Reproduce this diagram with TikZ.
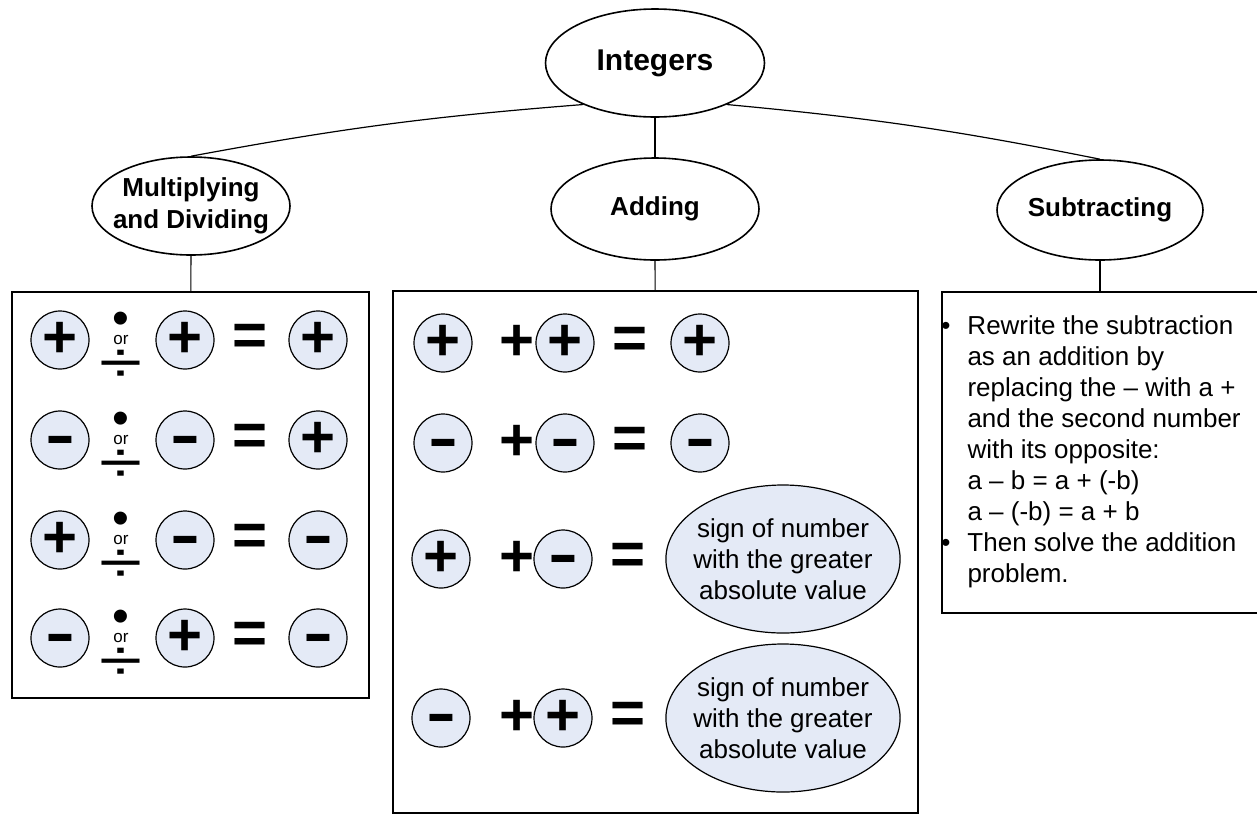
\documentclass[tikz,border=0pt]{standalone}
\usepackage{fontspec}
\setmainfont{Liberation Sans}
\usepackage{tikz}
\usetikzlibrary{shapes.geometric}

\definecolor{signfill}{RGB}{228,234,246}

\begin{document}
\begin{tikzpicture}[
		x=0.5pt, y=-0.5pt,
		every node/.style={inner sep=0pt, font=\fontsize{13}{15.5}\selectfont},
		topic/.style={ellipse, draw, line width=0.8pt, align=center, font=\bfseries\fontsize{13}{16}\selectfont},
		panel/.style={rectangle, draw, line width=0.8pt},
		possign/.style={circle, draw, line width=0.6pt, fill=signfill, minimum size=29pt, font=\bfseries\fontsize{30}{30}\selectfont},
		negsign/.style={possign, text height=15.7pt, text depth=0pt},
		opsign/.style={font=\bfseries\fontsize{30}{30}\selectfont},
		orsign/.style={font=\fontsize{8.5}{8.5}\selectfont,
			label={[font=\fontsize{24}{24}\selectfont, label distance=0pt]above:•},
			label={[font=\fontsize{29}{29}\selectfont, label distance=2.5pt]below:\scalebox{1.35}[1]{÷}}},
		result/.style={ellipse, draw, line width=0.6pt, fill=signfill, minimum width=117pt, minimum height=74pt, inner xsep=-3.4pt, align=center}
	]
  \useasboundingbox (0,0) rectangle (1257,815);
  % tree
  \node (int) [topic, minimum width=109.5pt, minimum height=54pt, font=\bfseries\fontsize{15}{18}\selectfont] at (655,63) {Integers};
  \node (mult) [topic, minimum width=99pt, minimum height=49pt, inner xsep=-4.5pt] at (191,206) {Multiplying\\and Dividing};
  \node (add) [topic, minimum width=104pt, minimum height=51pt] at (655,209) {Adding};
  \node (sub) [topic, minimum width=103pt, minimum height=50pt] at (1100,210) {Subtracting};
  \node (multbox) [panel, minimum width=178.5pt, minimum height=203pt] at (190.5,495) {};
  \node (addbox) [panel, minimum width=262.5pt, minimum height=261pt] at (655.5,552) {};
  \node (subbox) [panel, minimum width=158pt, minimum height=160.5pt] at (1100,452.5) {};
  \draw [line width=0.6pt] (int.210) to [bend right=3] (mult.north);
  \draw [line width=0.6pt] (int.330) to [bend left=3] (sub.north);
  \draw [line width=0.6pt] (int) -- (add);
  \draw [line width=0.6pt] (mult) -- (multbox);
  \draw [line width=0.6pt] (add) -- (addbox);
  \draw [line width=0.6pt] (sub) -- (subbox);

  % multiplying and dividing
  \node (m1a) [possign] at (60,340) {+};
  \node (m1o) [orsign] at (121,340) {or};
  \node (m1b) [possign] at (185,340) {+};
  \node (m1e) [opsign] at (250,340) {=};
  \node (m1c) [possign] at (318,340) {+};
  \node (m2a) [negsign] at (60,440) {\scalebox{1.5}[1]{-}};
  \node (m2o) [orsign] at (121,440) {or};
  \node (m2b) [negsign] at (185,440) {\scalebox{1.5}[1]{-}};
  \node (m2e) [opsign] at (250,440) {=};
  \node (m2c) [possign] at (318,440) {+};
  \node (m3a) [possign] at (60,540) {+};
  \node (m3o) [orsign] at (121,540) {or};
  \node (m3b) [negsign] at (185,540) {\scalebox{1.5}[1]{-}};
  \node (m3e) [opsign] at (250,540) {=};
  \node (m3c) [negsign] at (318,540) {\scalebox{1.5}[1]{-}};
  \node (m4a) [negsign] at (60,638) {\scalebox{1.5}[1]{-}};
  \node (m4o) [orsign] at (121,638) {or};
  \node (m4b) [possign] at (185,638) {+};
  \node (m4e) [opsign] at (250,638) {=};
  \node (m4c) [negsign] at (318,638) {\scalebox{1.5}[1]{-}};

  % adding
  \node (a1a) [possign] at (443,343) {+};
  \node (a1p) [opsign] at (517,343) {+};
  \node (a1b) [possign] at (565,343) {+};
  \node (a1e) [opsign] at (630,343) {=};
  \node (a1c) [possign] at (700,343) {+};
  \node (a2a) [negsign] at (443,443) {\scalebox{1.5}[1]{-}};
  \node (a2p) [opsign] at (517,443) {+};
  \node (a2b) [negsign] at (565,443) {\scalebox{1.5}[1]{-}};
  \node (a2e) [opsign] at (630,443) {=};
  \node (a2c) [negsign] at (700,443) {\scalebox{1.5}[1]{-}};
  \node (a3a) [possign] at (441,559) {+};
  \node (a3p) [opsign] at (517,559) {+};
  \node (a3b) [negsign] at (563,559) {\scalebox{1.5}[1]{-}};
  \node (a3e) [opsign] at (628,559) {=};
  \node (a3c) [result] at (783,559) {sign of number\\with the greater\\absolute value};
  \node (a4a) [negsign] at (441,718) {\scalebox{1.5}[1]{-}};
  \node (a4p) [opsign] at (517,718) {+};
  \node (a4b) [possign] at (563,718) {+};
  \node (a4e) [opsign] at (628,718) {=};
  \node (a4c) [result] at (783,718) {sign of number\\with the greater\\absolute value};

  % subtracting
  \node (rule) [anchor=west] at (941,452) {\begin{tabular}{@{}l@{\hspace{8.5pt}}l@{}}
    • & Rewrite the subtraction\\
      & as an addition by\\
      & replacing the – with a +\\
      & and the second number\\
      & with its opposite:\\
      & a – b = a + (-b)\\
      & a – (-b) = a + b\\
    • & Then solve the addition\\
      & problem.
  \end{tabular}};
\end{tikzpicture}
\end{document}
